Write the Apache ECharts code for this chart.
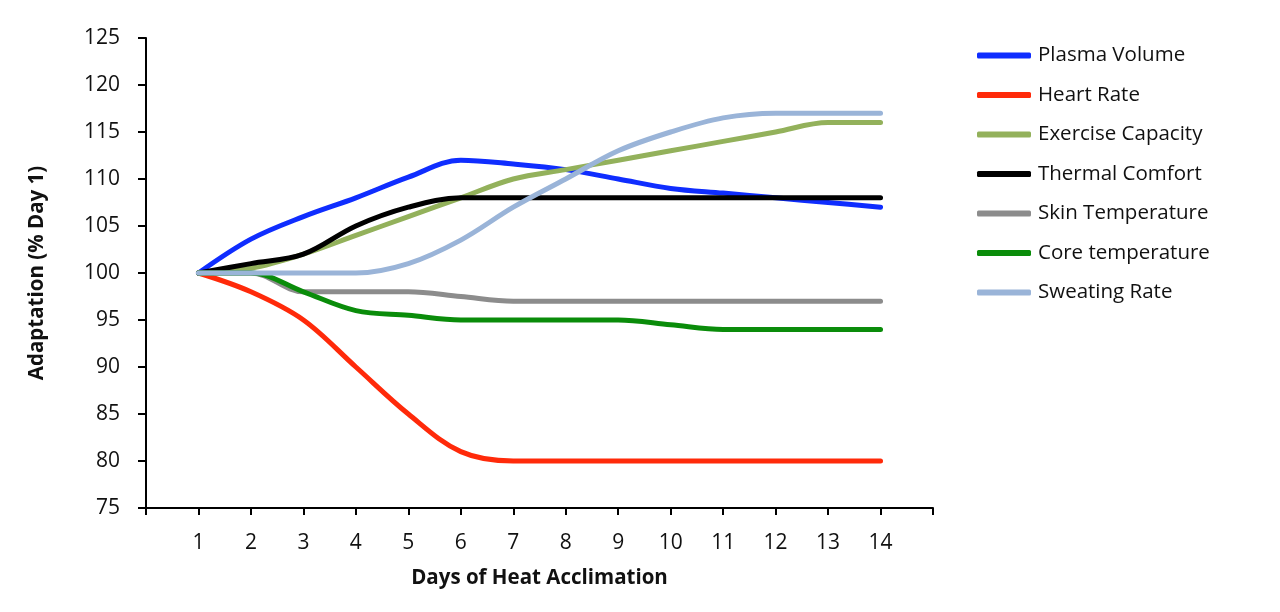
<!DOCTYPE html>
<html style="height: 100%">
<head>
    <meta charset="utf-8">
    <script src="https://cdn.jsdelivr.net/npm/echarts@6/dist/echarts.min.js"></script>
</head>
<body style="height: 100%; margin: 0; background: #fff">
    <div id="main" style="width: 1280px; height: 612px"></div>
    <script type="text/javascript">
        var days = [1, 2, 3, 4, 5, 6, 7, 8, 9, 10, 11, 12, 13, 14];

        var plasmaVolume     = [100, 103.6, 106, 108, 110.2, 112, 111.6, 111, 110, 109, 108.5, 108, 107.5, 107];
        var heartRate        = [100, 98, 95, 90, 85, 81, 80, 80, 80, 80, 80, 80, 80, 80];
        var exerciseCapacity = [100, 100.5, 102, 104, 106, 108, 110, 111, 112, 113, 114, 115, 116, 116];
        var thermalComfort   = [100, 101, 102, 105, 107, 108, 108, 108, 108, 108, 108, 108, 108, 108];
        var skinTemperature  = [100, 100, 98, 98, 98, 97.5, 97, 97, 97, 97, 97, 97, 97, 97];
        var coreTemperature  = [100, 100, 98, 96, 95.5, 95, 95, 95, 95, 94.5, 94, 94, 94, 94];
        var sweatingRate     = [100, 100, 100, 100, 101, 103.5, 107, 110, 113, 115, 116.5, 117, 117, 117];

        var seriesNames  = ['Plasma Volume', 'Heart Rate', 'Exercise Capacity', 'Thermal Comfort',
                            'Skin Temperature', 'Core temperature', 'Sweating Rate'];
        var seriesValues = [plasmaVolume, heartRate, exerciseCapacity, thermalComfort,
                            skinTemperature, coreTemperature, sweatingRate];
        var seriesColors = ['#0f2dff', '#ff2a0a', '#93b15b', '#000000', '#8c8c8c', '#0a8c0a', '#9ab4d8'];

        var font = 'Open Sans';

        var myChart = echarts.init(document.getElementById('main'));

        var series = [];
        for (var i = 0; i < seriesNames.length; i++) {
            var pts = [];
            for (var j = 0; j < days.length; j++) {
                pts.push([days[j], seriesValues[i][j]]);
            }
            series.push({
                name: seriesNames[i],
                type: 'line',
                smooth: 0.35,
                showSymbol: false,
                symbol: 'none',
                lineStyle: { width: 5, color: seriesColors[i], cap: 'round' },
                itemStyle: { color: seriesColors[i] },
                data: pts
            });
        }

        var option = {
            animation: false,
            grid: { left: 146, right: 347, top: 38, bottom: 104 },
            legend: {
                orient: 'vertical',
                left: 972,
                top: 40,
                itemWidth: 54,
                itemHeight: 6,
                itemGap: 18.5,
                icon: 'roundRect',
                textStyle: { fontFamily: font, fontSize: 20.5, color: '#111', padding: [0, 0, 0, 2] },
                data: seriesNames
            },
            xAxis: {
                type: 'value',
                min: 0,
                max: 15,
                interval: 1,
                name: 'Days of Heat Acclimation',
                nameLocation: 'middle',
                nameGap: 60,
                nameTextStyle: { fontFamily: font, fontSize: 20.5, fontWeight: 'bold', color: '#111' },
                axisLine: { lineStyle: { color: '#000', width: 2 } },
                axisTick: { show: true, length: 7, lineStyle: { color: '#000', width: 2 } },
                axisLabel: {
                    fontFamily: font, fontSize: 21, color: '#111', margin: 25,
                    formatter: function (v) { return (v >= 1 && v <= 14) ? String(v) : ''; }
                },
                splitLine: { show: false }
            },
            yAxis: {
                type: 'value',
                min: 75,
                max: 125,
                interval: 5,
                name: 'Adaptation (% Day 1)',
                nameLocation: 'middle',
                nameGap: 98,
                nameTextStyle: { fontFamily: font, fontSize: 20.5, fontWeight: 'bold', color: '#111' },
                axisLine: { show: true, lineStyle: { color: '#000', width: 2 } },
                axisTick: { show: true, length: 8, lineStyle: { color: '#000', width: 2 } },
                axisLabel: { fontFamily: font, fontSize: 21, color: '#111', margin: 26 },
                splitLine: { show: false }
            },
            series: series
        };

        myChart.setOption(option);
    </script>
</body>
</html>
